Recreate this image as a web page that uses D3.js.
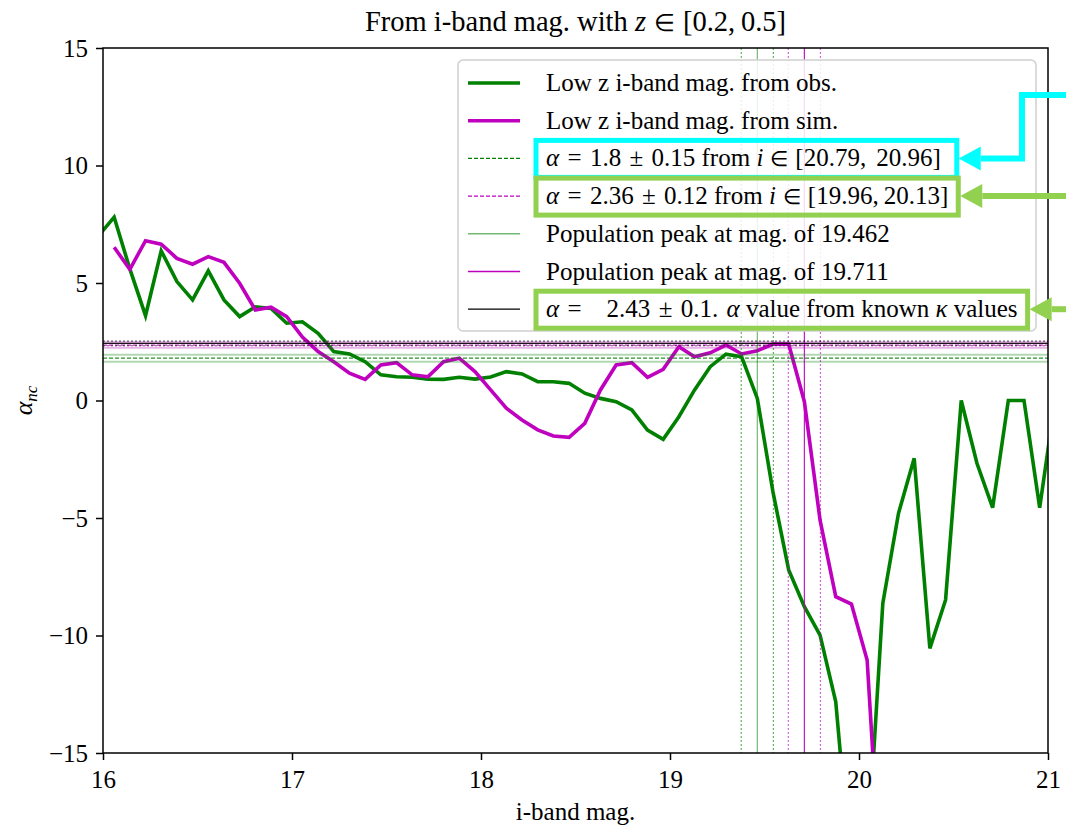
<!DOCTYPE html>
<html>
<head>
<meta charset="utf-8">
<script src="https://cdn.jsdelivr.net/npm/d3@7"></script>
<style>
  body { margin: 0; background: #fff; }
  svg { font-family: "Liberation Serif", "Times New Roman", serif; }
</style>
</head>
<body>
<svg id="chart" width="1066" height="832"></svg>
<script>
// magnitude bin centres
const mags = [15.976, 16.059, 16.142, 16.225, 16.308, 16.391, 16.474, 16.557, 16.640, 16.723,
    16.806, 16.889, 16.972, 17.055, 17.138, 17.221, 17.304, 17.387, 17.470, 17.553,
    17.636, 17.719, 17.802, 17.885, 17.968, 18.051, 18.134, 18.217, 18.300, 18.383,
    18.466, 18.549, 18.632, 18.715, 18.798, 18.881, 18.964, 19.047, 19.130, 19.213,
    19.296, 19.379, 19.462, 19.545, 19.628, 19.711, 19.794, 19.877, 19.960, 20.043,
    20.126, 20.209, 20.292, 20.375, 20.458, 20.541, 20.624, 20.707, 20.790, 20.873,
    20.956, 21.039];

const alphaObs = [7.0, 7.8, 5.6, 3.61, 6.37, 5.06, 4.28, 5.52, 4.28, 3.57,
    3.99, 3.92, 3.29, 3.35, 2.86, 2.08, 1.98, 1.65, 1.09, 1.01,
    0.99, 0.91, 0.90, 0.99, 0.91, 1.0, 1.23, 1.13, 0.80, 0.80,
    0.73, 0.31, 0.09, -0.05, -0.40, -1.26, -1.65, -0.69, 0.45, 1.44,
    1.97, 1.86, 0.09, -3.9, -7.21, -8.77, -9.98, -12.82, -20.3, -19.6,
    -8.63, -4.8, -2.46, -10.55, -8.49, 0.0, -2.67, -4.56, 0.0, 0.0,
    -4.56, 0.1];

const alphaSim = [null, 6.52, 5.58, 6.80, 6.65, 6.05, 5.80, 6.12, 5.88, 4.99,
    3.85, 3.97, 3.57, 2.7, 2.08, 1.65, 1.16, 0.90, 1.51, 1.61,
    1.09, 1.01, 1.65, 1.80, 1.23, 0.45, -0.33, -0.83, -1.25, -1.51,
    -1.57, -0.97, 0.45, 1.51, 1.61, 0.99, 1.33, 2.29, 1.86, 2.03,
    2.36, 1.98, 2.12, 2.40, 2.40, -0.05, -5.09, -8.35, -8.66, -11.04,
    -22, null, null, null, null, null, null, null, null, null,
    null, null];

const fitAlpha = [1.8, 2.36];
const fitErr = [0.15, 0.12];
const fitRange = [[20.79, 20.96], [19.96, 20.13]];
const knownAlpha = 2.43;
const knownErr = 0.1;
const peakMags = [19.462, 19.711];
const peakBand = 0.085;

const xTicks = [16, 17, 18, 19, 20, 21];
const yTicks = [-15, -10, -5, 0, 5, 10, 15];

const obsColor = "#008000", simColor = "#bf00bf";

const margin = {top: 48, right: 18, bottom: 79, left: 103},
    width = 1066 - margin.left - margin.right,
    height = 832 - margin.top - margin.bottom;

const svg = d3.select("#chart");
const g = svg.append("g")
    .attr("transform", `translate(${margin.left}, ${margin.top})`);

const x = d3.scaleLinear().domain([16, 21]).range([0, width]);
const y = d3.scaleLinear().domain([-15, 15]).range([height, 0]);

svg.append("defs").append("clipPath").attr("id", "plotClip")
    .append("rect").attr("width", width).attr("height", height);

const plot = g.append("g").attr("clip-path", "url(#plotClip)");

// curves
const line = d3.line()
    .defined(d => d[1] != null)
    .x(d => x(d[0]))
    .y(d => y(d[1]));

[[alphaObs, obsColor], [alphaSim, simColor]].forEach(([vals, col]) => {
    plot.append("path")
        .datum(mags.map((m, i) => [m, vals[i]]))
        .attr("d", line)
        .attr("fill", "none")
        .attr("stroke", col)
        .attr("stroke-width", 3.6)
        .attr("stroke-linejoin", "miter");
});

function hline(v, col, w, dash, op) {
    plot.append("line")
        .attr("x1", 0).attr("x2", width)
        .attr("y1", y(v)).attr("y2", y(v))
        .attr("stroke", col).attr("stroke-width", w)
        .attr("stroke-dasharray", dash).attr("opacity", op);
}
function vline(v, col, w, dash, op) {
    plot.append("line")
        .attr("x1", x(v)).attr("x2", x(v))
        .attr("y1", 0).attr("y2", height)
        .attr("stroke", col).attr("stroke-width", w)
        .attr("stroke-dasharray", dash).attr("opacity", op);
}

// fitted alpha levels
const fitCols = [obsColor, simColor];
fitAlpha.forEach((a, i) => {
    hline(a - fitErr[i], fitCols[i], 2, null, 0.3);
    hline(a + fitErr[i], fitCols[i], 2, null, 0.3);
    hline(a, fitCols[i], 1.2, "4,2", 0.85);
});

// population peaks
peakMags.forEach((p, i) => {
    vline(p - peakBand, fitCols[i], 1.2, "2,2", 0.6);
    vline(p + peakBand, fitCols[i], 1.2, "2,2", 0.6);
    vline(p, fitCols[i], 1.2, null, i === 0 ? 0.55 : 0.9);
});

// known kappa alpha
hline(knownAlpha, "#000", 1.2, null, 0.9);
hline(knownAlpha - knownErr, "#000", 1.2, "2,2", 0.6);
hline(knownAlpha + knownErr, "#000", 1.2, "2,2", 0.6);

// axes
const fmt = d => d < 0 ? "\u2212" + (-d) : String(d);
const xAxis = g.append("g")
    .attr("transform", `translate(0, ${height})`)
    .call(d3.axisBottom(x).tickValues(xTicks).tickSize(7).tickPadding(10).tickFormat(fmt));
const yAxis = g.append("g")
    .call(d3.axisLeft(y).tickValues(yTicks).tickSize(7).tickPadding(8).tickFormat(fmt));
[xAxis, yAxis].forEach(a => {
    a.select(".domain").remove();
    a.selectAll(".tick line").attr("stroke", "#000").attr("stroke-width", 1.5);
    a.selectAll(".tick text").attr("font-family", "Liberation Serif")
        .attr("font-size", 25).attr("fill", "#000");
});

g.append("rect")
    .attr("width", width).attr("height", height)
    .attr("fill", "none").attr("stroke", "#000").attr("stroke-width", 1.5);

// title and labels
const title = svg.append("text")
    .attr("x", margin.left + width / 2).attr("y", 31)
    .attr("text-anchor", "middle").attr("font-size", 28.5);
title.append("tspan").text("From i-band mag. with ");
title.append("tspan").attr("font-style", "italic").text("z");
title.append("tspan").attr("font-size", 24).text("\u2004\u2208\u2004");
title.append("tspan").text("[0.2,\u20090.5]");

svg.append("text")
    .attr("x", margin.left + width / 2).attr("y", 820)
    .attr("text-anchor", "middle").attr("font-size", 25)
    .text("i-band mag.");

const ylab = svg.append("text")
    .attr("transform", `translate(32, ${margin.top + height / 2}) rotate(-90)`)
    .attr("text-anchor", "middle").attr("font-size", 26);
ylab.append("tspan").attr("font-style", "italic").text("\u03b1");
ylab.append("tspan").attr("font-style", "italic").attr("font-size", 17).attr("dy", 5).text("nc");

// legend
const sp = "\u2004";
const legendItems = [
    {col: obsColor, w: 3.5, parts: [["Low z i-band mag. from obs.", false]]},
    {col: simColor, w: 3.5, parts: [["Low z i-band mag. from sim.", false]]},
    {col: obsColor, w: 1.2, dash: "4,2", parts: [["\u03b1", true],
        [`${sp}=${sp}${fitAlpha[0]}${sp}\u00b1${sp}${fitErr[0]} from `, false], ["i", true],
        [`${sp}\u2208${sp}`, false, 21], [`[${fitRange[0][0]},\u2009\u2009${fitRange[0][1]}]`, false]]},
    {col: simColor, w: 1.2, dash: "4,2", parts: [["\u03b1", true],
        [`${sp}=${sp}${fitAlpha[1]}${sp}\u00b1${sp}${fitErr[1]} from `, false], ["i", true],
        [`${sp}\u2208${sp}`, false, 21], [`[${fitRange[1][0]},\u2009${fitRange[1][1]}]`, false]]},
    {col: obsColor, w: 1.5, op: 0.55, parts: [[`Population peak at mag. of ${peakMags[0]}`, false]]},
    {col: simColor, w: 1.5, parts: [[`Population peak at mag. of ${peakMags[1]}`, false]]},
    {col: "#000", w: 1.2, parts: [["\u03b1", true],
        [`${sp}=${sp}${sp}${sp}${knownAlpha}${sp}\u00b1${sp}${knownErr}.${sp}`, false], ["\u03b1", true],
        [" value from known ", false], ["\u03ba", true], [" values", false]]}
];

const legX = margin.left + width - 12 - 578, legY = margin.top + 12;
const legend = svg.append("g").attr("transform", `translate(${legX}, ${legY})`);
legend.append("rect")
    .attr("width", 578).attr("height", 271).attr("rx", 5)
    .attr("fill", "#fff").attr("fill-opacity", 0.85)
    .attr("stroke", "#d0d0d0").attr("stroke-width", 1.5);

const rowH = 37.7, row0 = 23;
const legendTexts = [];
legendItems.forEach((it, i) => {
    const cy = row0 + i * rowH;
    legend.append("line")
        .attr("x1", 10).attr("x2", 62).attr("y1", cy).attr("y2", cy)
        .attr("stroke", it.col).attr("stroke-width", it.w)
        .attr("stroke-dasharray", it.dash || null)
        .attr("opacity", it.op || 1);
    const t = legend.append("text")
        .attr("x", 88).attr("y", cy + 8).attr("font-size", 25);
    it.parts.forEach(([s, ital, fs]) => {
        t.append("tspan").attr("font-style", ital ? "italic" : null)
            .attr("font-size", fs || null).text(s);
    });
    legendTexts.push(t);
});

// highlight boxes and arrows
function boxFor(i, col, extra) {
    const bb = legendTexts[i].node().getBBox();
    const cy = legY + row0 + i * rowH;
    const bx = legX + bb.x - 10, bw = bb.width + 20 + (extra || 0);
    svg.append("rect")
        .attr("x", bx).attr("y", cy - 18).attr("width", bw).attr("height", 37)
        .attr("fill", "none").attr("stroke", col).attr("stroke-width", 5);
    return {right: bx + bw, cy: cy};
}
function arrow(pts, col) {
    const tip = pts[pts.length - 1];
    const headLen = 22, headHalf = 12;
    const base = [tip[0] + headLen, tip[1]];
    const shaft = pts.slice(0, -1).concat([base]);
    svg.append("path")
        .attr("d", d3.line()(shaft))
        .attr("fill", "none").attr("stroke", col).attr("stroke-width", 6);
    svg.append("path")
        .attr("d", d3.line()([[tip[0], tip[1]], [base[0], base[1] - headHalf], [base[0], base[1] + headHalf]]) + "Z")
        .attr("fill", col);
}

const cyan = "#00ffff", lime = "#92d050";
const b1 = boxFor(2, cyan, 6);
arrow([[1066, 95], [1022, 95], [1022, b1.cy], [b1.right + 2, b1.cy]], cyan);
const b2 = boxFor(3, lime);
arrow([[1066, b2.cy], [b2.right + 2, b2.cy]], lime);
const b3 = boxFor(6, lime);
arrow([[1066, b3.cy], [b3.right + 2, b3.cy]], lime);
</script>
</body>
</html>
